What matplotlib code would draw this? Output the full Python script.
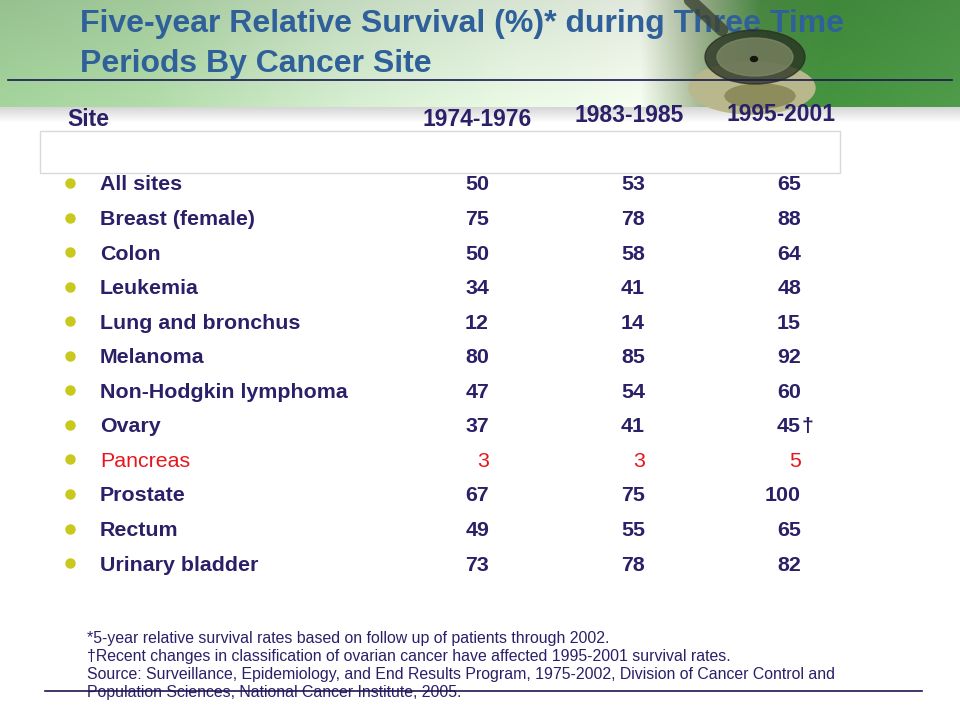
import numpy as np
import matplotlib
matplotlib.use("Agg")
import matplotlib.pyplot as plt
from matplotlib.patches import Rectangle, Ellipse

plt.rcParams['font.family'] = ['Liberation Sans', 'DejaVu Sans']

# table data
title_lines = ["Five-year Relative Survival (%)* during Three Time",
               "Periods By Cancer Site"]
col_headers = ["1974-1976", "1983-1985", "1995-2001"]
sites = ["All sites", "Breast (female)", "Colon", "Leukemia", "Lung and bronchus",
         "Melanoma", "Non-Hodgkin lymphoma", "Ovary", "Pancreas", "Prostate",
         "Rectum", "Urinary bladder"]
surv_1974 = [50, 75, 50, 34, 12, 80, 47, 37, 3, 67, 49, 73]
surv_1983 = [53, 78, 58, 41, 14, 85, 54, 41, 3, 75, 55, 78]
surv_1995 = [65, 88, 64, 48, 15, 92, 60, 45, 5, 100, 65, 82]
daggered = ["Ovary"]
highlight = ["Pancreas"]
footnotes = [
    "*5-year relative survival rates based on follow up of patients through 2002.",
    "\u2020Recent changes in classification of ovarian cancer have affected 1995-2001 survival rates.",
    "Source: Surveillance, Epidemiology, and End Results Program, 1975-2002, Division of Cancer Control and",
    "Population Sciences, National Cancer Institute, 2005.",
]

NAVY = "#2a2068"
RED = "#e8161c"
BULLET = "#c9c81c"

fig = plt.figure(figsize=(9.6, 7.26), dpi=100)
ax = fig.add_axes([0, 0, 1, 1])
ax.set_xlim(0, 960)
ax.set_ylim(726, 0)
ax.axis("off")

# green header band
stops_x = [0, 150, 350, 500, 640, 700, 760, 830, 960]
stops_c = np.array([[0.62, 0.80, 0.59], [0.67, 0.83, 0.64], [0.81, 0.90, 0.79],
                    [0.88, 0.94, 0.86], [0.93, 0.96, 0.91], [0.62, 0.70, 0.56],
                    [0.30, 0.55, 0.27], [0.26, 0.56, 0.24], [0.30, 0.59, 0.28]])
xs = np.arange(960)
row = np.stack([np.interp(xs, stops_x, stops_c[:, k]) for k in range(3)], axis=-1)
shade = np.linspace(0.95, 1.04, 107)[:, None, None]
band = np.clip(row[None, :, :] * shade, 0, 1)
ax.imshow(band, extent=(0, 960, 107, 0), aspect="auto", zorder=0)

# stethoscope hint (partly over the title, as in the slide)
ax.plot([690, 722], [0, 30], color="#3c4234", lw=9, solid_capstyle="round",
        alpha=0.8, zorder=4)
ax.add_patch(Ellipse((752, 88), 126, 52, color="#b9b88c", zorder=1))
ax.add_patch(Ellipse((760, 96), 70, 24, color="#8d8c5c", zorder=1))
ax.add_patch(Ellipse((755, 57), 100, 54, color="#262d20", alpha=0.75, zorder=4))
ax.add_patch(Ellipse((755, 57), 76, 38, color="#7f8a66", alpha=0.75, zorder=4))
ax.add_patch(Ellipse((754, 59), 7, 5, color="#151510", zorder=4))

# grey strip below band
grey = np.linspace(0.84, 1.0, 16)[:, None, None] * np.ones((16, 2, 3))
ax.imshow(grey, extent=(0, 960, 123, 107), aspect="auto", zorder=0)

# title
for i, line in enumerate(title_lines):
    ax.text(80, 32 + i * 40, line, fontsize=23, fontweight="bold",
            color="#30609a", va="baseline", ha="left", zorder=3)
ax.plot([8, 952], [80, 80], color="#1c1752", lw=1.2, zorder=5)

# column headers
ax.text(67, 126, "Site", fontsize=16.5, fontweight="bold", color=NAVY,
        va="baseline", ha="left", zorder=3)
col_right = [532, 684, 835]
head_base = [126, 122, 121]
for h, xr, yb in zip(col_headers, col_right, head_base):
    ax.text(xr, yb, h, fontsize=16.5, fontweight="bold", color=NAVY,
            va="baseline", ha="right", zorder=3)

ax.add_patch(Rectangle((40, 131), 800, 42, facecolor="white",
                       edgecolor="#d9d9d9", lw=1, zorder=2))

# table rows
num_right = [489, 645, 801]
for i, site in enumerate(sites):
    y = 183 + i * 34.55
    red = site in highlight
    color = RED if red else NAVY
    weight = "normal" if red else "bold"
    ax.plot(70, y, "o", color=BULLET, markersize=6.5, zorder=3)
    ax.text(100, y + 7.5, site, fontsize=15.4, fontweight=weight, color=color,
            va="baseline", ha="left")
    for vals, xr in zip([surv_1974, surv_1983, surv_1995], num_right):
        ax.text(xr, y + 7.5, str(vals[i]), fontsize=15.4, fontweight=weight,
                color=color, va="baseline", ha="right")
    if site in daggered:
        ax.text(xr + 1, y + 7.5, "\u2020", fontsize=15.4, fontweight=weight,
                color=color, va="baseline", ha="left")

# footnotes
for i, note in enumerate(footnotes):
    ax.text(87, 638 + i * 18, note, fontsize=11.4, color=NAVY,
            va="center", ha="left")
ax.plot([45, 922], [691, 691], color="#1c1752", lw=1.2, zorder=3)

fig.savefig("out.png", dpi=100)
